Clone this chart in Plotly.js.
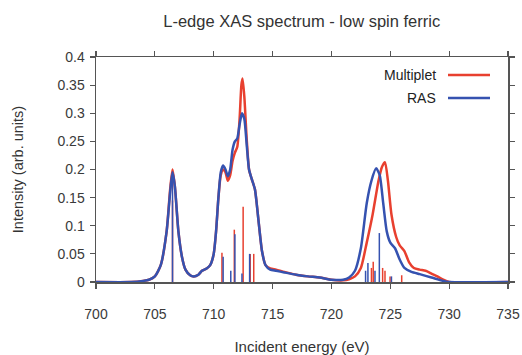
<!DOCTYPE html>
<html>
<head>
<meta charset="utf-8">
<script src="https://cdn.plot.ly/plotly-3.0.1.min.js"></script>
<style>html,body{margin:0;padding:0;background:#fff;}#chart{width:522px;height:355px;}</style>
</head>
<body>
<div id="chart"></div>
<script>
// Spectrum (energy in eV, intensity in arb. units)
const rasEnergy = [700,703,704,704.5,705,705.5,706,706.3,706.5,706.7,707,707.3,707.6,708,708.3,708.7,709,709.4,709.7,710,710.2,710.4,710.6,710.8,711.0,711.2,711.4,711.6,711.8,712.0,712.2,712.4,712.6,712.8,713.0,713.2,713.5,713.8,714.1,714.4,714.8,715.3,716,717,718,719,720,721,721.5,722,722.5,723,723.4,723.8,724.1,724.4,724.7,725,725.4,725.8,726.2,726.8,727.5,728.5,729.5,730,735];
const rasIntensity = [0,0,0.002,0.004,0.01,0.03,0.09,0.16,0.195,0.17,0.09,0.045,0.022,0.012,0.01,0.013,0.02,0.024,0.03,0.05,0.09,0.15,0.195,0.207,0.2,0.188,0.2,0.235,0.25,0.255,0.28,0.3,0.29,0.245,0.2,0.185,0.165,0.11,0.055,0.03,0.022,0.02,0.017,0.013,0.01,0.008,0.004,0.004,0.008,0.02,0.06,0.14,0.18,0.202,0.19,0.14,0.09,0.07,0.06,0.04,0.025,0.018,0.014,0.008,0.002,0,0];

const multEnergy = [700,703,704,704.5,705,705.5,706,706.3,706.5,706.7,707,707.3,707.6,708,708.3,708.7,709,709.4,709.7,710,710.2,710.4,710.6,710.8,711.0,711.2,711.4,711.6,711.8,712.0,712.2,712.35,712.45,712.6,712.8,713.0,713.2,713.5,713.8,714.1,714.4,714.8,715.3,716,717,718,719,720,721,721.5,722,722.5,723,723.5,724,724.3,724.55,724.8,725.1,725.5,725.8,726.2,726.6,727,727.5,728,728.5,729,729.5,730,735];
const multIntensity = [0,0,0.002,0.004,0.01,0.03,0.09,0.165,0.2,0.17,0.09,0.045,0.022,0.012,0.01,0.013,0.02,0.024,0.03,0.05,0.09,0.15,0.19,0.2,0.195,0.18,0.19,0.215,0.23,0.24,0.29,0.35,0.362,0.33,0.255,0.2,0.185,0.165,0.11,0.055,0.03,0.024,0.022,0.018,0.013,0.01,0.008,0.004,0.003,0.005,0.01,0.025,0.07,0.12,0.18,0.205,0.213,0.18,0.12,0.08,0.065,0.055,0.035,0.025,0.022,0.02,0.015,0.01,0.004,0,0];

// Stick (transition) spectra
const multStickEnergy = [706.5,710.7,711.75,712.5,713.1,713.4,723.4,723.55,724.35,724.55,724.98,725.97];
const multStickIntensity = [0.145,0.052,0.093,0.134,0.05,0.05,0.025,0.036,0.025,0.02,0.01,0.012];
const rasStickEnergy = [706.5,710.8,711.45,711.8,712.4,713.05,722.9,723.1,723.7,724.07,725.1];
const rasStickIntensity = [0.19,0.045,0.02,0.085,0.015,0.05,0.02,0.034,0.02,0.087,0.01];

const xTicks = [700,705,710,715,720,725,730,735];
const yTicks = [0,0.05,0.1,0.15,0.2,0.25,0.3,0.35,0.4];
const seriesNames = ['Multiplet','RAS'];

const RED = '#e8402f', BLUE = '#3552b0';
const FONT = 'Liberation Sans, Arial, sans-serif';

function sticks(es, is) {
  const x = [], y = [];
  es.forEach((e, k) => { x.push(e, e, null); y.push(0, is[k], null); });
  return {x, y};
}
const ms = sticks(multStickEnergy, multStickIntensity);
const rs = sticks(rasStickEnergy, rasStickIntensity);

const traces = [
  {x: ms.x, y: ms.y, mode: 'lines', line: {color: RED, width: 1.5}, showlegend: false, hoverinfo: 'skip'},
  {x: rs.x, y: rs.y, mode: 'lines', line: {color: BLUE, width: 1.5}, showlegend: false, hoverinfo: 'skip'},
  {x: multEnergy, y: multIntensity, name: seriesNames[0], mode: 'lines', line: {color: RED, width: 2.5, shape: 'spline', smoothing: 0.6}, showlegend: false},
  {x: rasEnergy, y: rasIntensity, name: seriesNames[1], mode: 'lines', line: {color: BLUE, width: 2.5, shape: 'spline', smoothing: 0.6}, showlegend: false}
];

const axisCommon = {
  showgrid: false, zeroline: false, showline: true, linecolor: '#555', linewidth: 1.5,
  mirror: 'ticks', ticks: 'outside', ticklen: 5, tickwidth: 1.2, tickcolor: '#555',
  tickfont: {family: FONT, size: 14, color: '#3a3a3a'}
};

const layout = {
  width: 522, height: 355,
  margin: {l: 96, r: 14, t: 57, b: 73},
  paper_bgcolor: '#fff', plot_bgcolor: '#fff',
  font: {family: FONT, color: '#333'},
  title: {text: 'L-edge XAS spectrum - low spin ferric', font: {family: FONT, size: 16.5, color: '#333'},
          x: 0.578, xanchor: 'center', y: 0.94, yanchor: 'middle'},
  xaxis: Object.assign({}, axisCommon, {range: [700, 735], tickvals: xTicks, ticklabelstandoff: 14,
          title: {text: 'Incident energy (eV)', font: {family: FONT, size: 15, color: '#333'}, standoff: 20}}),
  yaxis: Object.assign({}, axisCommon, {range: [0, 0.4], tickvals: yTicks, ticklabelstandoff: 2,
          title: {text: 'Intensity (arb. units)', font: {family: FONT, size: 14.5, color: '#333'}, standoff: 30}}),
  annotations: [
    {xref: 'paper', yref: 'paper', x: (438-96)/412, y: (282-75)/225, xanchor: 'right', yanchor: 'middle', text: seriesNames[0], showarrow: false, font: {family: FONT, size: 14, color: '#222'}},
    {xref: 'paper', yref: 'paper', x: (438-96)/412, y: (282-98)/225, xanchor: 'right', yanchor: 'middle', text: seriesNames[1], showarrow: false, font: {family: FONT, size: 14, color: '#222'}}
  ],
  shapes: [
    {type: 'line', xref: 'paper', yref: 'paper', x0: (448-96)/412, x1: (490-96)/412, y0: (282-75)/225, y1: (282-75)/225, line: {color: RED, width: 2.5}},
    {type: 'line', xref: 'paper', yref: 'paper', x0: (448-96)/412, x1: (490-96)/412, y0: (282-98)/225, y1: (282-98)/225, line: {color: BLUE, width: 2.5}}
  ]
};

Plotly.newPlot('chart', traces, layout, {displayModeBar: false, staticPlot: true});
</script>
</body>
</html>
